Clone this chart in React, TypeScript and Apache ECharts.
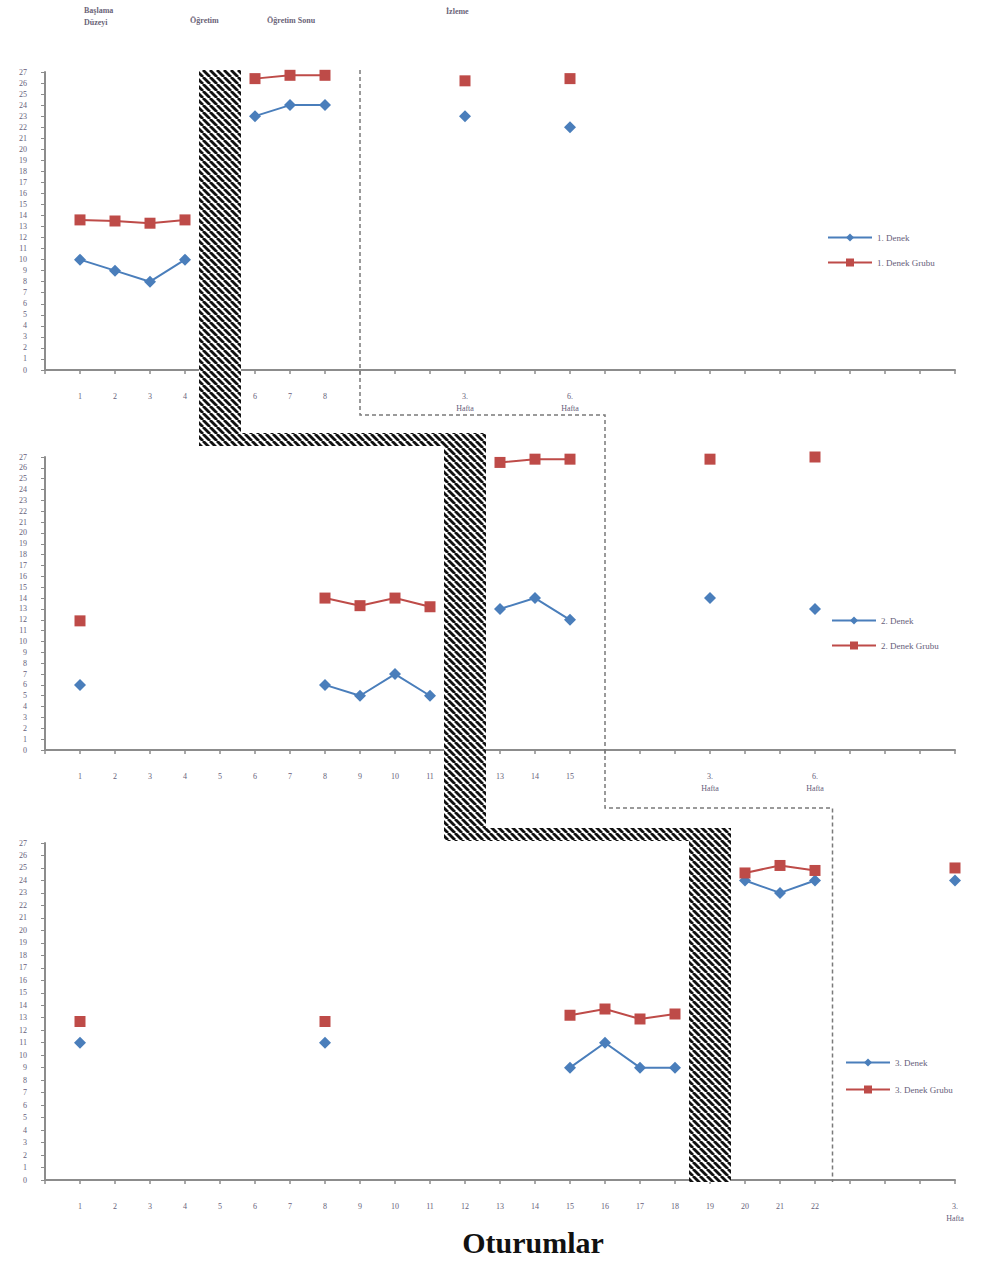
import React, { useEffect, useRef } from 'react';
import * as echarts from 'echarts';

const N = 27;

// x-axis tick labels (index 0 = axis origin)
const xLabels1 = ['', '1', '2', '3', '4', '', '6', '7', '8', '', '', '', '3.\nHafta', '', '', '6.\nHafta', '', '', '', '', '', '', '', '', '', '', ''];
const xLabels2 = ['', '1', '2', '3', '4', '5', '6', '7', '8', '9', '10', '11', '', '13', '14', '15', '', '', '', '3.\nHafta', '', '', '6.\nHafta', '', '', '', ''];
const xLabels3 = ['', '1', '2', '3', '4', '5', '6', '7', '8', '9', '10', '11', '12', '13', '14', '15', '16', '17', '18', '19', '20', '21', '22', '', '', '', '3.\nHafta'];

// Panel 1
const p1Sessions = [1, 2, 3, 4, 6, 7, 8, 12, 15];
const p1Denek = [10, 9, 8, 10, 23, 24, 24, 23, 22];
const p1Grup = [13.6, 13.5, 13.3, 13.6, 26.4, 26.7, 26.7, 26.2, 26.4];

// Panel 2
const p2Sessions = [1, 8, 9, 10, 11, 13, 14, 15, 19, 22];
const p2Denek = [6, 6, 5, 7, 5, 13, 14, 12, 14, 13];
const p2Grup = [11.9, 14, 13.3, 14, 13.2, 26.5, 26.8, 26.8, 26.8, 27];

// Panel 3
const p3Sessions = [1, 8, 15, 16, 17, 18, 20, 21, 22, 26];
const p3Denek = [11, 11, 9, 11, 9, 9, 24, 23, 24, 24];
const p3Grup = [12.7, 12.7, 13.2, 13.7, 12.9, 13.3, 24.6, 25.2, 24.8, 25];

const seriesNames = [
  ['1. Denek', '1. Denek Grubu'],
  ['2. Denek', '2. Denek Grubu'],
  ['3. Denek', '3. Denek Grubu'],
];

const BLUE = '#4a7ebb';
const RED = '#be4b48';
const AXIS = '#8c8c8c';
const LABEL = '#66607a';
const SERIF = '"Liberation Serif", "DejaVu Serif", serif';

function place(sessions: number[], values: number[]) {
  const a: (number | null)[] = new Array(N).fill(null);
  sessions.forEach((s, i) => {
    a[s] = values[i];
  });
  return a;
}

export default function App() {
  const ref = useRef<HTMLDivElement>(null);

  useEffect(() => {
    if (!ref.current) return;
    const chart = echarts.init(ref.current, null, { renderer: 'svg' });

    const grids = [
      { left: 45, top: 72, width: 910, height: 298 },
      { left: 45, top: 457, width: 910, height: 293 },
      { left: 45, top: 843, width: 910, height: 337 },
    ];
    const labels = [xLabels1, xLabels2, xLabels3];
    const panels = [
      [p1Sessions, p1Denek, p1Grup],
      [p2Sessions, p2Denek, p2Grup],
      [p3Sessions, p3Denek, p3Grup],
    ] as number[][][];
    const legendPos = [
      { left: 822, top: 228, gap: 16 },
      { left: 826, top: 611, gap: 16 },
      { left: 840, top: 1053, gap: 18 },
    ];

    const xAxis = labels.map((lab, i) => ({
      type: 'category',
      gridIndex: i,
      data: lab,
      boundaryGap: false,
      axisLine: { show: true, lineStyle: { color: AXIS, width: 2 } },
      axisTick: { show: true, interval: 0, length: 4, lineStyle: { color: AXIS, width: 1.5 } },
      axisLabel: {
        interval: 0,
        margin: 20,
        fontSize: 8,
        lineHeight: 12,
        color: LABEL,
        fontFamily: SERIF,
      },
      splitLine: { show: false },
    }));

    const yAxis = grids.map((_, i) => ({
      type: 'value',
      gridIndex: i,
      min: 0,
      max: 27,
      interval: 1,
      axisLine: { show: true, lineStyle: { color: AXIS, width: 2 } },
      axisTick: { show: true, length: 4, lineStyle: { color: AXIS, width: 1 } },
      axisLabel: { fontSize: 8, margin: 18, color: LABEL, fontFamily: SERIF },
      splitLine: { show: false },
    }));

    const series: any[] = [];
    panels.forEach((p, i) => {
      series.push({
        type: 'line',
        name: seriesNames[i][0],
        xAxisIndex: i,
        yAxisIndex: i,
        data: place(p[0], p[1]),
        symbol: 'diamond',
        symbolSize: 12,
        showSymbol: true,
        showAllSymbol: true,
        connectNulls: false,
        color: BLUE,
        itemStyle: { color: BLUE },
        lineStyle: { color: BLUE, width: 2 },
        z: 3,
      });
      series.push({
        type: 'line',
        name: seriesNames[i][1],
        xAxisIndex: i,
        yAxisIndex: i,
        data: place(p[0], p[2]),
        symbol: 'rect',
        symbolSize: 11,
        showSymbol: true,
        showAllSymbol: true,
        connectNulls: false,
        color: RED,
        itemStyle: { color: RED },
        lineStyle: { color: RED, width: 2 },
        z: 3,
      });
    });

    const legend = legendPos.map((lp, i) => ({
      data: seriesNames[i],
      left: lp.left,
      top: lp.top,
      orient: 'vertical',
      itemWidth: 44,
      itemHeight: 10,
      itemGap: lp.gap,
      selectedMode: false,
      textStyle: { fontSize: 9, fontFamily: SERIF, color: LABEL },
    }));

    chart.setOption({
      animation: false,
      backgroundColor: '#ffffff',
      grid: grids,
      xAxis,
      yAxis,
      legend,
      series,
    });

    // Phase-change positions derived from the axes
    const px = (g: number, k: number) => (chart.convertToPixel({ gridIndex: g }, [k, 0]) as number[])[0];
    const py = (g: number, v: number) => (chart.convertToPixel({ gridIndex: g }, [0, v]) as number[])[1];

    const half = 21;
    const c1 = px(0, 5);
    const c2 = px(1, 12);
    const c3 = px(2, 19);
    const top1 = py(0, 27) - 2;
    const bot3 = py(2, 0) + 2;
    const h1top = 433;
    const h1bot = 446;
    const h2top = 828;
    const h2bot = 841;

    const T = 7;
    const canvas = document.createElement('canvas');
    canvas.width = T;
    canvas.height = T;
    const ctx = canvas.getContext('2d');
    if (ctx) {
      ctx.fillStyle = '#ffffff';
      ctx.fillRect(0, 0, T, T);
      ctx.strokeStyle = '#111111';
      ctx.lineWidth = 2.8;
      for (const o of [-T, 0, T]) {
        ctx.beginPath();
        ctx.moveTo(o, 0);
        ctx.lineTo(o + T, T);
        ctx.stroke();
      }
    }

    const stair = [
      [c1 - half, top1],
      [c1 + half, top1],
      [c1 + half, h1top],
      [c2 + half, h1top],
      [c2 + half, h2top],
      [c3 + half, h2top],
      [c3 + half, bot3],
      [c3 - half, bot3],
      [c3 - half, h2bot],
      [c2 - half, h2bot],
      [c2 - half, h1bot],
      [c1 - half, h1bot],
    ];

    const d1 = px(0, 9);
    const d2 = px(1, 16);
    const d3 = (px(2, 22) + px(2, 23)) / 2;
    const dashed = [
      [d1, top1],
      [d1, 415],
      [d2, 415],
      [d2, 808],
      [d3, 808],
      [d3, bot3],
    ];

    const topText = (text: string, x: number, y: number) => ({
      type: 'text',
      x,
      y,
      style: { text, fontSize: 8, fontWeight: 'bold', fontFamily: SERIF, fill: '#6a6478', lineHeight: 12 },
    });

    chart.setOption({
      graphic: [
        {
          type: 'polygon',
          shape: { points: stair },
          style: {
            fill: { image: canvas, repeat: 'repeat', imageWidth: T, imageHeight: T } as any,
            stroke: null,
          },
          z: 10,
        },
        {
          type: 'polyline',
          shape: { points: dashed },
          style: { stroke: '#7a7a7a', lineWidth: 1.5, lineDash: [4, 3], fill: null },
          z: 9,
        },
        topText('Başlama\nDüzeyi', 84, 4),
        topText('Öğretim', 190, 14),
        topText('Öğretim Sonu', 267, 14),
        topText('İzleme', 446, 5),
        {
          type: 'text',
          x: 533,
          y: 1227,
          style: {
            text: 'Oturumlar',
            fontSize: 30,
            fontWeight: 'bold',
            fontFamily: SERIF,
            fill: '#111111',
            align: 'center',
          },
        },
      ],
    });

    return () => {
      chart.dispose();
    };
  }, []);

  return (
    <div
      ref={ref}
      style={{ position: 'absolute', left: 0, top: 0, width: 993, height: 1266, overflow: 'hidden' }}
    />
  );
}
